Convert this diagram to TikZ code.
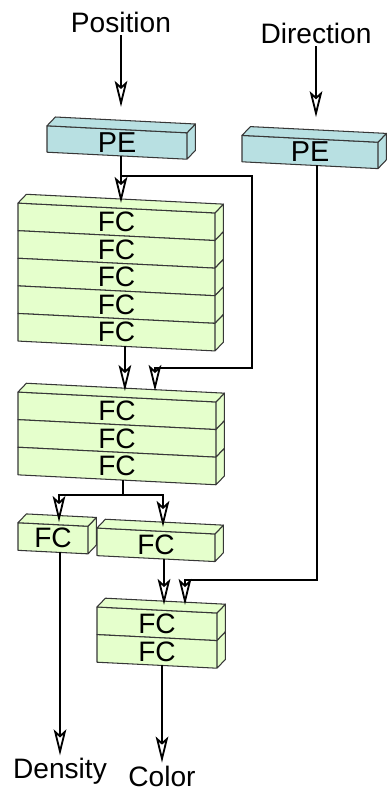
\documentclass[tikz,border=0pt]{standalone}
\usepackage{fontspec}
\setmainfont{Liberation Sans}
\usetikzlibrary{calc,arrows.meta,positioning,backgrounds}
\definecolor{peblue}{RGB}{184,224,226}
\definecolor{fcgreen}{RGB}{229,255,204}
\definecolor{edgegray}{RGB}{55,55,55}
\tikzset{
  gbox/.style  ={rectangle, inner sep=0pt, outer sep=0pt, font=\fontsize{20}{20}\selectfont},
  pebox/.style ={gbox, minimum height=0.66cm, font=\fontsize{20.5}{20.5}\selectfont},
  fcbox/.style ={gbox, minimum height=0.69cm},
  gface/.style ={draw=edgegray, line width=0.75pt, line join=round},
  gline/.style ={line width=1.4pt, black},
  gdir/.style  ={gline, -{Stealth[fill=white, length=18.5pt, width=9pt, inset=4pt, line width=1.3pt]}},
  glabel/.style={font=\fontsize{20}{20}\selectfont, inner sep=2pt},
}

\begin{document}
\begin{tikzpicture}
  \useasboundingbox (0,0) rectangle (9.75,-19.825);

  % ---- inputs and encodings -----------------------------------------------
  \node[glabel] (pos) at (3.025,-0.55) {Position};
  \node[glabel] (dir) at (7.9,-0.825) {Direction};
  \node[pebox, minimum width=3.5cm] (pe1) at (2.925,-3.5625) {PE};
  \node[pebox, minimum width=3.4cm] (pe2) at (7.75,-3.8) {PE};

  % ---- trunk: five layers, then three -------------------------------------
  \node[fcbox, minimum width=4.925cm] (f1) at (2.9125,-5.545) {FC};
  \foreach \i [count=\j from 2] in {1,...,4}
    \node[fcbox, minimum width=4.925cm, below=0pt of f\i] (f\j) {FC};
  \node[fcbox, minimum width=4.95cm] (g1) at (2.925,-10.27) {FC};
  \foreach \i [count=\j from 2] in {1,2}
    \node[fcbox, minimum width=4.95cm, below=0pt of g\i] (g\j) {FC};

  % ---- heads ---------------------------------------------------------------
  \node[fcbox, minimum width=1.75cm] (hL) at (1.325,-13.457) {FC};
  \node[fcbox, minimum width=2.95cm] (hR) at (3.9,-13.62) {FC};
  \node[fcbox, minimum width=3.0cm] (k1) at (3.925,-15.595) {FC};
  \node[fcbox, minimum width=3.0cm, below=0pt of k1] (k2) {FC};

  \node[glabel] (dens) at (1.5,-19.29) {Density};
  \node[glabel] (col) at (4.05,-19.4) {Color};

  % ---- slanted box faces behind the labels --------------------------------
  \begin{scope}[on background layer]
    \foreach \b/\c in {pe1/peblue, pe2/peblue, f1/fcgreen, f2/fcgreen, f3/fcgreen,
                       f4/fcgreen, f5/fcgreen, g1/fcgreen, g2/fcgreen, g3/fcgreen,
                       hL/fcgreen, hR/fcgreen, k1/fcgreen, k2/fcgreen} {
      \draw[gface, fill=\c] let \p1=($(\b.east)-(\b.west)$), \n1={0.025*\x1} in
        ($(\b.north west)+(0,\n1)$) -- ($(\b.north east)-(0,\n1)$)
        -- ($(\b.south east)-(0,\n1)$) -- ($(\b.south west)+(0,\n1)$) -- cycle
        ($(\b.north east)-(0,\n1)$) -- ++(0.21,0.22)
        -- ($(\b.south east)+(0.21,0.22)-(0,\n1)$) -- ($(\b.south east)-(0,\n1)$) -- cycle;
    }
    \foreach \b/\c in {pe1/peblue, pe2/peblue, f1/fcgreen, g1/fcgreen,
                       hL/fcgreen, hR/fcgreen, k1/fcgreen} {
      \draw[gface, fill=\c] let \p1=($(\b.east)-(\b.west)$), \n1={0.025*\x1} in
        ($(\b.north west)+(0,\n1)$) -- ++(0.21,0.22)
        -- ($(\b.north east)+(0.21,0.22)-(0,\n1)$) -- ($(\b.north east)-(0,\n1)$) -- cycle;
    }
  \end{scope}

  % ---- connectors ----------------------------------------------------------
  \coordinate (b1) at (3.025,-4.4);
  \coordinate (b2) at (6.3,-4.4);
  \coordinate (b3) at (6.3,-9.2);
  \coordinate (b4) at (3.875,-9.2);
  \coordinate (s0) at (3.075,-12.375);
  \coordinate (sL) at (1.475,-12.375);
  \coordinate (sR) at (4.075,-12.375);
  \coordinate (d1) at (7.92,-14.5);
  \coordinate (d2) at (4.625,-14.5);

  \draw[gdir, shorten >=0.56cm] (pos) -- (pos |- pe1.north);
  \draw[gdir, shorten >=0.54cm] (dir) -- (dir |- pe2.north);
  \draw[gdir, shorten >=0.125cm] (pe1.south -| b1) -- (b1 |- f1.north);
  \draw[gdir, shorten >=0.15cm] (b1) -- (b2) -- (b3) -- (b4) -- (b4 |- g1.north);
  \draw[gdir, shorten >=0.15cm] ([xshift=0.21cm]f5.south) -- ([xshift=0.21cm]f5.south |- g1.north);
  \draw[gline] (g3.south -| s0) -- (s0);
  \draw[gdir, shorten >=0.06cm] (s0) -- (sL) -- (sL |- hL.north);
  \draw[gdir, shorten >=0.1cm] (s0) -- (sR) -- (sR |- hR.north);
  \draw[gdir] (dens.north |- hL.south) -- (dens.north);
  \draw[gdir, shorten >=0.125cm] ([xshift=0.2cm]hR.south) -- ([xshift=0.2cm]hR.south |- k1.north);
  \draw[gdir, shorten >=0.125cm] (pe2.south -| d1) -- (d1) -- (d2) -- (d2 |- k1.north);
  \draw[gdir] (col.north |- k2.south) -- (col.north);
\end{tikzpicture}
\end{document}
